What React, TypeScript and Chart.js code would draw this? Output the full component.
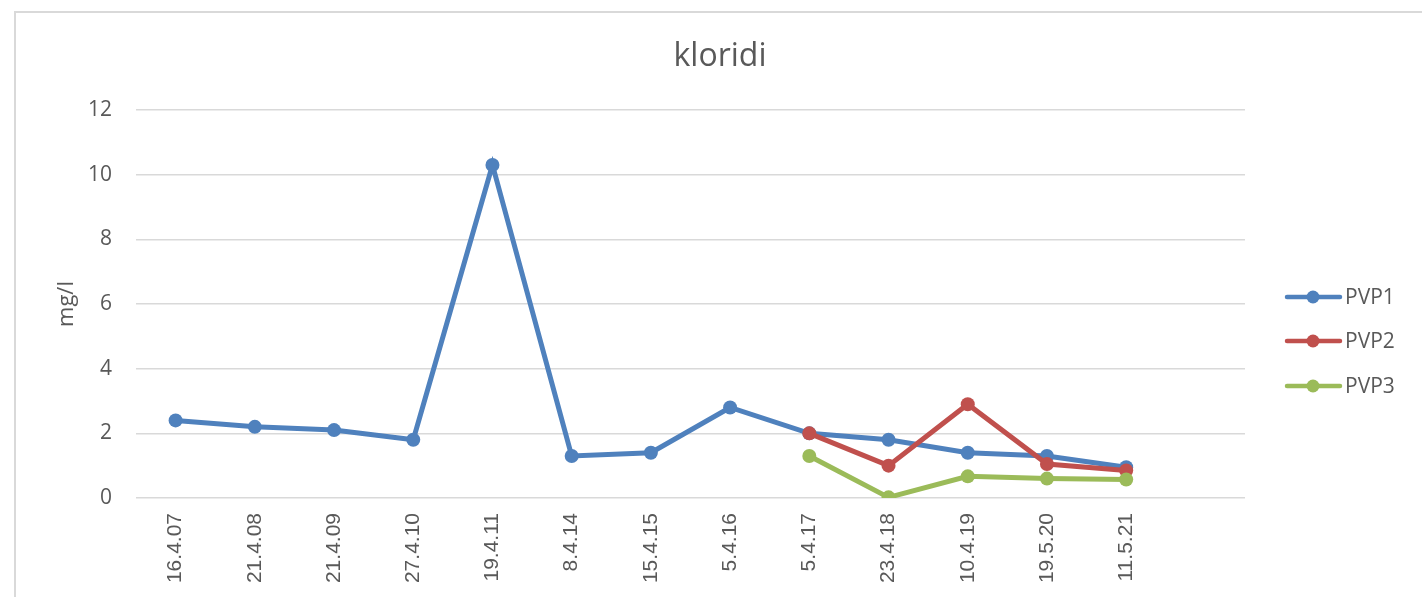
import React, { useEffect, useRef } from "react";
import { Chart, registerables } from "chart.js";

Chart.register(...registerables);

const categories = [
  "16.4.07", "21.4.08", "21.4.09", "27.4.10", "19.4.11", "8.4.14", "15.4.15",
  "5.4.16", "5.4.17", "23.4.18", "10.4.19", "19.5.20", "11.5.21", "",
];
const pvp1 = [2.4, 2.2, 2.1, 1.8, 10.3, 1.3, 1.4, 2.8, 2.0, 1.8, 1.4, 1.3, 0.95, null];
const pvp2 = [null, null, null, null, null, null, null, null, 2.0, 1.0, 2.9, 1.05, 0.85, null];
const pvp3 = [null, null, null, null, null, null, null, null, 1.3, 0.02, 0.67, 0.6, 0.57, null];
const seriesNames = ["PVP1", "PVP2", "PVP3"];
const seriesColors = ["#4f81bd", "#c0504d", "#9bbb59"];

const FONT = "'Open Sans', 'Noto Sans', sans-serif";

const customPlugin = {
  id: "custom",
  afterDraw(chart: any) {
    const ctx = chart.ctx;
    const area = chart.chartArea;
    ctx.save();
    // y-axis title
    ctx.fillStyle = "#595959";
    ctx.font = `22px ${FONT}`;
    ctx.textAlign = "center";
    ctx.textBaseline = "middle";
    ctx.translate(67, (area.top + area.bottom) / 2);
    ctx.rotate(-Math.PI / 2);
    ctx.fillText("mg/l", 0, 0);
    ctx.restore();

    // legend
    ctx.save();
    const rows = [297, 341, 386];
    seriesNames.forEach((name, i) => {
      const y = rows[i];
      ctx.strokeStyle = seriesColors[i];
      ctx.lineWidth = 4.5;
      ctx.lineCap = "round";
      ctx.beginPath();
      ctx.moveTo(1287, y);
      ctx.lineTo(1340, y);
      ctx.stroke();
      ctx.fillStyle = seriesColors[i];
      ctx.beginPath();
      ctx.arc(1313, y, 6.5, 0, Math.PI * 2);
      ctx.fill();
      ctx.fillStyle = "#595959";
      ctx.font = `21px ${FONT}`;
      ctx.textAlign = "left";
      ctx.textBaseline = "middle";
      ctx.fillText(name, 1345, y + 1);
    });
    ctx.restore();
  },
};

export default function App() {
  const ref = useRef<HTMLCanvasElement | null>(null);

  useEffect(() => {
    if (!ref.current) return;
    const mk = (label: string, data: any[], color: string, order: number) => ({
      label,
      data,
      borderColor: color,
      backgroundColor: color,
      borderWidth: 5,
      pointRadius: 7,
      pointHoverRadius: 7,
      pointBorderWidth: 0,
      pointBackgroundColor: color,
      tension: 0,
      spanGaps: false,
      order,
    });
    const chart = new Chart(ref.current, {
      type: "line",
      data: {
        labels: categories,
        datasets: [
          mk(seriesNames[0], pvp1, seriesColors[0], 2),
          mk(seriesNames[1], pvp2, seriesColors[1], 1),
          mk(seriesNames[2], pvp3, seriesColors[2], 0),
        ],
      },
      options: {
        animation: false,
        responsive: false,
        layout: { padding: { left: 18, right: 0, top: 0, bottom: 0 } },
        plugins: {
          legend: { display: false },
          tooltip: { enabled: false },
          title: {
            display: true,
            text: "kloridi",
            color: "#595959",
            font: { family: FONT, size: 32, weight: "normal", lineHeight: 1.2 },
            padding: { top: 37.8, bottom: 33.8 },
          },
        },
        scales: {
          x: {
            type: "category",
            offset: true,
            grid: { display: false, drawTicks: false },
            border: { display: false },
            ticks: {
              autoSkip: false,
              minRotation: 90,
              maxRotation: 90,
              padding: 15,
              color: "#595959",
              font: { family: "'Liberation Sans', Arial, sans-serif", size: 21 },
            },
            afterFit: (s: any) => {
              s.height = 99;
            },
          },
          y: {
            min: 0,
            max: 12,
            ticks: {
              stepSize: 2,
              padding: 24,
              color: "#595959",
              font: { family: FONT, size: 21 },
            },
            grid: { color: "#d9d9d9", lineWidth: 1.5, drawTicks: false },
            border: { display: false },
            afterFit: (s: any) => {
              s.width = 118;
            },
          },
          yRight: {
            position: "right",
            display: true,
            min: 0,
            max: 12,
            ticks: { display: false },
            grid: { display: false, drawTicks: false },
            border: { display: false },
            afterFit: (s: any) => {
              s.width = 177;
            },
          },
        },
      },
      plugins: [customPlugin],
    });
    return () => chart.destroy();
  }, []);

  return (
    <div style={{ position: "fixed", left: 0, top: 0, width: 1422, height: 597, background: "#fff", overflow: "hidden" }}>
      <div
        style={{
          position: "absolute",
          left: 14,
          top: 11,
          width: 1420,
          height: 700,
          border: "2px solid #d9d9d9",
          boxSizing: "border-box",
        }}
      />
      <canvas ref={ref} width={1422} height={597} style={{ position: "absolute", left: 0, top: 0 }} />
    </div>
  );
}
